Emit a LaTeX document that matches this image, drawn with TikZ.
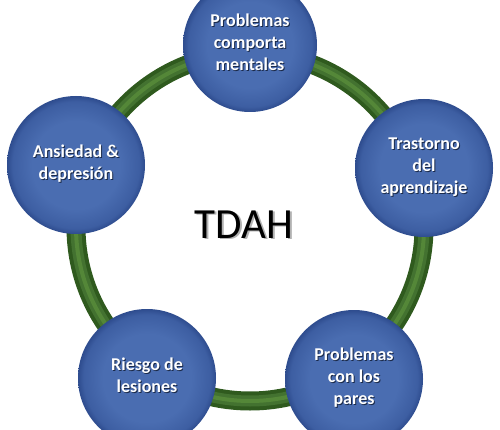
\documentclass[tikz,border=0pt]{standalone}
\usepackage{fontspec}
\setmainfont{Carlito}
\definecolor{ringdark}{HTML}{2F5A1E}
\definecolor{ringmid}{HTML}{437230}
\definecolor{ringlight}{HTML}{548738}
\definecolor{bubin}{HTML}{4A6DB1}
\definecolor{bubout}{HTML}{3D5EA2}
\definecolor{bubrim}{HTML}{2E4C8E}
\definecolor{bubshadow}{HTML}{1A2A4A}
\pgfdeclareradialshading{bubshade}{\pgfpoint{0bp}{0bp}}{color(0bp)=(bubin); color(16bp)=(bubin); color(23bp)=(bubout); color(25bp)=(bubrim); color(50bp)=(bubrim)}
% text with a soft offset shadow behind it
\newcommand\shtext[3]{\makebox[0pt][l]{\hspace{#2}\raisebox{-#2}{\color{#1}\begin{tabular}{@{}c@{}}#3\end{tabular}}}\begin{tabular}{@{}c@{}}#3\end{tabular}}

\begin{document}
\begin{tikzpicture}[x=1pt,y=-1pt,
  bubble/.style={circle, minimum size=138pt, inner sep=0pt, shading=bubshade,
    text=white, font=\bfseries\fontsize{18}{22}\selectfont}]
\clip (0,0) rectangle (500,430);
\coordinate (hub) at (250,227);
% green ring
\draw[ringdark, line width=19pt] (hub) circle (174pt);
\draw[ringmid, line width=11pt] (hub) circle (174pt);
\draw[ringlight, line width=4pt] (hub) circle (174pt);
% the five bubbles
\node[bubble, minimum size=134pt] (comport) at (250,45) {\shtext{bubshadow}{1pt}{Problemas\\comporta\\mentales}};
\node[bubble] (trastorno) at (424,168) {\shtext{bubshadow}{1pt}{Trastorno\\del\\aprendizaje}};
\node[bubble] (pares) at (354,379) {\shtext{bubshadow}{1pt}{Problemas\\con los\\pares}};
\node[bubble] (riesgo) at (147,378) {\shtext{bubshadow}{1pt}{Riesgo de\\lesiones}};
\node[bubble] (ansiedad) at (76,165) {\shtext{bubshadow}{1pt}{Ansiedad \&\\depresión}};
% centre label
\node[font=\fontsize{43}{50}\selectfont] (tdah) at (244,229) {\shtext{black!30}{2pt}{TDAH}};
\end{tikzpicture}
\end{document}
